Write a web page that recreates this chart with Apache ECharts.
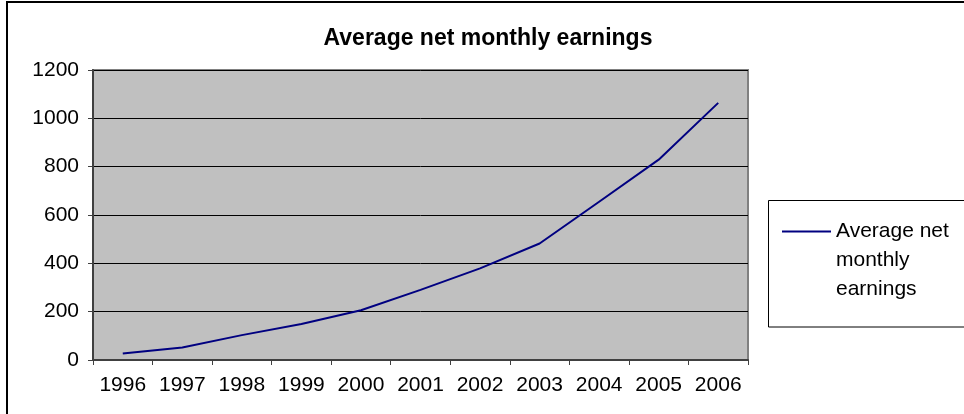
<!DOCTYPE html>
<html>
<head>
<meta charset="utf-8">
<script src="https://cdn.jsdelivr.net/npm/echarts@6/dist/echarts.min.js"></script>
<style>
  html, body { margin: 0; padding: 0; background: #fff; }
  #chart { width: 964px; height: 414px; }
</style>
</head>
<body>
<div id="chart"></div>
<script>
// Yearly average net monthly earnings
const years = ['1996', '1997', '1998', '1999', '2000', '2001', '2002', '2003', '2004', '2005', '2006'];
const earnings = [27, 52, 103, 149, 206, 290, 379, 482, 655, 829, 1064];
const yTicks = { min: 0, max: 1200, step: 200 };
const seriesName = 'Average net monthly earnings';
const titleText = 'Average net monthly earnings';
// legend entry wrapped over three lines; the two leading blank lines keep
// the first line level with the legend key
const legendLines = ['', '', 'Average net', 'monthly', 'earnings'];

const FONT = '"Liberation Sans", Arial, sans-serif';
const axisColor = '#404040';
const lineColor = '#000080';

const chart = echarts.init(document.getElementById('chart'), null, { renderer: 'canvas' });

chart.setOption({
  backgroundColor: '#ffffff',
  animation: false,
  title: {
    text: titleText,
    left: 488,
    top: 27,
    padding: 0,
    textAlign: 'center',
    textStyle: { fontFamily: FONT, fontSize: 23, fontWeight: 'bold', color: '#000' }
  },
  grid: {
    left: 93,
    right: 216,
    top: 70,
    bottom: 54,
    show: true,
    backgroundColor: '#c0c0c0',
    borderColor: '#808080',
    borderWidth: 2
  },
  legend: {
    data: [{ name: seriesName, icon: 'rect' }],
    left: 782,
    top: 159,
    padding: 0,
    itemWidth: 49,
    itemHeight: 2,
    itemGap: 0,
    itemStyle: { color: lineColor },
    formatter: function () { return legendLines.join('\n'); },
    textStyle: {
      fontFamily: FONT,
      fontSize: 21,
      lineHeight: 29,
      color: '#000'
    }
  },
  xAxis: {
    type: 'category',
    data: years,
    boundaryGap: true,
    axisLine: { show: true, lineStyle: { color: axisColor, width: 2 } },
    axisTick: { show: true, length: 5, inside: false, lineStyle: { color: axisColor, width: 1 } },
    axisLabel: { margin: 15, fontFamily: FONT, fontSize: 21, color: '#000', interval: 0 },
    splitLine: { show: false }
  },
  yAxis: {
    type: 'value',
    min: yTicks.min,
    max: yTicks.max,
    interval: yTicks.step,
    axisLine: { show: true, lineStyle: { color: axisColor, width: 2 } },
    axisTick: { show: true, length: 5, inside: false, lineStyle: { color: axisColor, width: 1 } },
    axisLabel: {
      margin: 14, fontFamily: FONT, fontSize: 21, color: '#000',
      formatter: function (v) { return String(v); }
    },
    splitLine: { show: true, lineStyle: { color: '#000', width: 1 } }
  },
  series: [{
    name: seriesName,
    type: 'line',
    data: earnings,
    symbol: 'none',
    showSymbol: false,
    smooth: false,
    lineStyle: { color: lineColor, width: 2 },
    itemStyle: { color: lineColor }
  }],
  graphic: [
    {
      type: 'rect',
      shape: { x: 7, y: 2, width: 1000, height: 500 },
      style: { fill: 'none', stroke: '#000', lineWidth: 2 },
      silent: true
    },
    {
      type: 'rect',
      shape: { x: 768.5, y: 200.5, width: 300, height: 126.5 },
      style: { fill: 'none', stroke: '#000', lineWidth: 1 },
      silent: true
    }
  ]
});
</script>
</body>
</html>
